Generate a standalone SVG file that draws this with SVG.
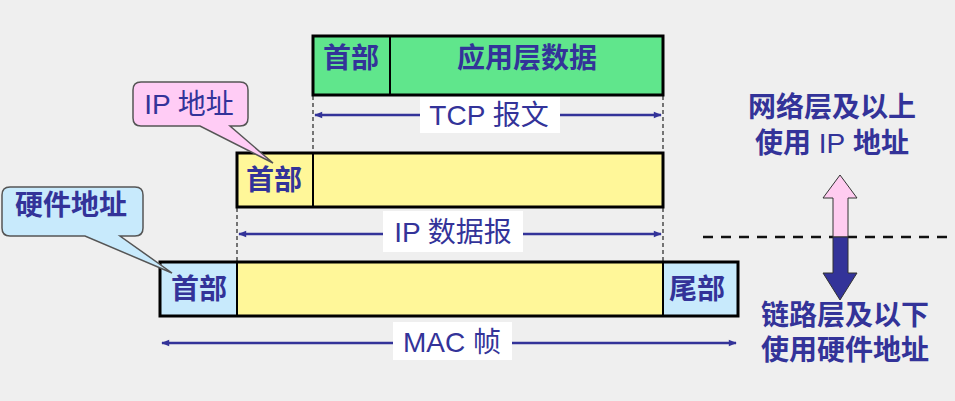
<svg xmlns="http://www.w3.org/2000/svg" width="955" height="401" viewBox="0 0 955 401">
<defs>
<marker id="ah" viewBox="0 0 10 10" refX="9" refY="5" markerWidth="10" markerHeight="8" markerUnits="userSpaceOnUse" orient="auto-start-reverse">
<path d="M0,1 L10,5 L0,9 Z" fill="#333399"/>
</marker>
<style>
.t{font-family:"Liberation Sans","Noto Sans CJK SC",sans-serif;font-size:28px;fill:#333399;text-anchor:middle}
.b{font-weight:bold}
.n{font-weight:normal}
.box{stroke:#000;stroke-width:3}
.div{stroke:#000;stroke-width:2}
.dash{stroke:#222;stroke-width:1.2;stroke-dasharray:4 3;fill:none}
.arr{stroke:#333399;stroke-width:2.5;fill:none}
.lbg{fill:#ffffff}
.call{stroke:#555;stroke-width:1.5}
</style>
</defs>
<rect width="955" height="401" fill="#efefef"/>

<g id="connectors">
<line class="dash" x1="313" y1="96" x2="313" y2="152"/>
<line class="dash" x1="663" y1="96" x2="663" y2="152"/>
<line class="dash" x1="237" y1="208" x2="237" y2="262"/>
<line class="dash" x1="663" y1="208" x2="663" y2="262"/>
<line class="arr" x1="315" y1="115" x2="661" y2="115" marker-start="url(#ah)" marker-end="url(#ah)"/>
<line class="arr" x1="239" y1="234" x2="661" y2="234" marker-start="url(#ah)" marker-end="url(#ah)"/>
<line class="arr" x1="162" y1="343" x2="736" y2="343" marker-start="url(#ah)" marker-end="url(#ah)"/>
<line x1="703" y1="237" x2="955" y2="237" stroke="#111" stroke-width="2.5" stroke-dasharray="10 8"/>
</g>

<g id="tcp-segment">
<rect class="box" x="313" y="36" width="350" height="59" fill="#60e68c"/>
<line class="div" x1="390" y1="36" x2="390" y2="95"/>
<text class="t b" x="351" y="68">首部</text>
<text class="t b" x="527" y="68">应用层数据</text>
</g>
<g id="tcp-label">
<rect class="lbg" x="420" y="97" width="140" height="36"/>
<text class="t" x="489" y="125">TCP 报文</text>
</g>

<g id="ip-datagram">
<rect class="box" x="237" y="153" width="426" height="54" fill="#fff799"/>
<line class="div" x1="313" y1="153" x2="313" y2="207"/>
<text class="t b" x="274" y="190">首部</text>
</g>
<g id="ip-label">
<rect class="lbg" x="383" y="211" width="140" height="41"/>
<text class="t" x="453" y="242">IP 数据报</text>
</g>

<g id="mac-frame">
<rect x="160" y="262" width="578" height="54" fill="#fff799"/>
<rect x="160" y="262" width="77" height="54" fill="#c8eafc"/>
<rect x="663" y="262" width="75" height="54" fill="#c8eafc"/>
<rect class="box" x="160" y="262" width="578" height="54" fill="none"/>
<line class="div" x1="237" y1="262" x2="237" y2="316"/>
<line class="div" x1="663" y1="262" x2="663" y2="316"/>
<text class="t b" x="199" y="299">首部</text>
<text class="t b" x="697" y="299">尾部</text>
</g>
<g id="mac-label">
<rect class="lbg" x="393" y="322" width="119" height="38"/>
<text class="t" x="452" y="352">MAC 帧</text>
</g>

<g id="ip-address-callout">
<path class="call" fill="#ffccf5" d="M141,82 H240 Q248,82 248,90 V118 Q248,126 240,126 H230 L273,163 L200,126 H141 Q133,126 133,118 V90 Q133,82 141,82 Z"/>
<text class="t" x="189" y="114">IP 地址</text>
</g>

<g id="hw-address-callout">
<path class="call" fill="#c8eafc" d="M10,187 H135 Q143,187 143,195 V228 Q143,236 135,236 H120 L172,273 L85,236 H10 Q2,236 2,228 V195 Q2,187 10,187 Z"/>
<text class="t b" x="71" y="215">硬件地址</text>
</g>

<g id="layer-arrow">
<path d="M833,237 V198 H823 L840,175 L857,198 H848 V237 Z" fill="#ffccf0" stroke="#333" stroke-width="1"/>
<path d="M833,237 V273 H823 L840,300 L857,273 H848 V237 Z" fill="#333399" stroke="#333" stroke-width="1"/>
</g>

<g id="upper-text">
<text class="t b" x="832" y="117">网络层及以上</text>
<text class="t b" x="832" y="153">使用 <tspan class="n">IP</tspan> 地址</text>
</g>
<g id="lower-text">
<text class="t b" x="845" y="325">链路层及以下</text>
<text class="t b" x="845" y="360">使用硬件地址</text>
</g>
</svg>
